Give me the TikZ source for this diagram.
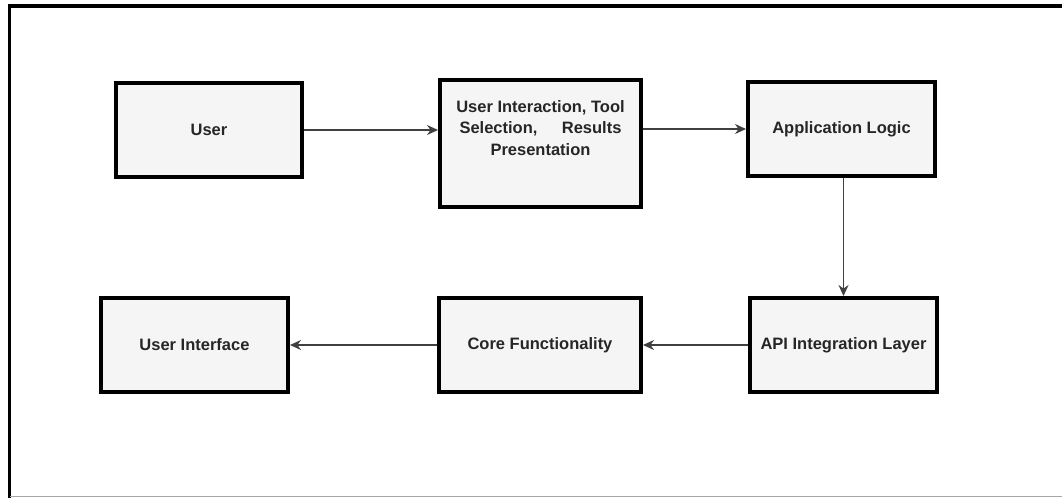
\documentclass[tikz,border=0pt]{standalone}
\usepackage{fontspec}
\setmainfont{Liberation Sans}
\usetikzlibrary{arrows.meta}
\begin{document}
\begin{tikzpicture}[x=1pt,y=-1pt,
  box/.style={draw=black,line width=4pt,fill={rgb,255:red,245;green,245;blue,245},inner sep=0pt},
  lbl/.style={font=\bfseries\fontsize{16.5}{21.5}\selectfont,text=black!85,align=center},
  conn/.style={draw=black!75,line width=1.4pt,-{Stealth[length=11pt,width=10pt]}}]
\useasboundingbox (0,0) rectangle (1062,498);
\fill[white] (0,0) rectangle (1062,498);
% outer frame
\draw[line width=3.5pt,black] (9.5,498) -- (9.5,6) -- (1062,6);
\draw[line width=1.2pt,black!35] (9.5,496.5) -- (1062,496.5);
% boxes
\node[box,minimum width=186pt,minimum height=94pt] (user) at (209,130) {};
\node[lbl] at (user.center) {User};
\node[box,minimum width=201pt,minimum height=127pt] (uit) at (540.5,143.5) {};
\node[lbl] (uitl) at (540.5,128) {User Interaction, Tool\\Selection,\hspace{1.2em} Results\\Presentation};
\node[box,minimum width=187pt,minimum height=94pt] (app) at (841.5,129) {};
\node[lbl] at (app.center) {Application Logic};
\node[box,minimum width=187pt,minimum height=94pt] (ui) at (194.5,345) {};
\node[lbl] at (ui.center) {User Interface};
\node[box,minimum width=202pt,minimum height=94pt] (core) at (540,345) {};
\node[lbl] at (core.center) {Core Functionality};
\node[box,minimum width=187pt,minimum height=94pt] (api) at (843.5,345) {};
\node[lbl] at (api.center) {API Integration Layer};
% connectors
\draw[conn] (user.east) -- (uit.west |- user.east);
\draw[conn] (uit.east |- app.west) -- (app.west);
\draw[conn] (app.south -| api.north) -- (api.north);
\draw[conn] (api.west) -- (core.east);
\draw[conn] (core.west) -- (ui.east);
\end{tikzpicture}
\end{document}
